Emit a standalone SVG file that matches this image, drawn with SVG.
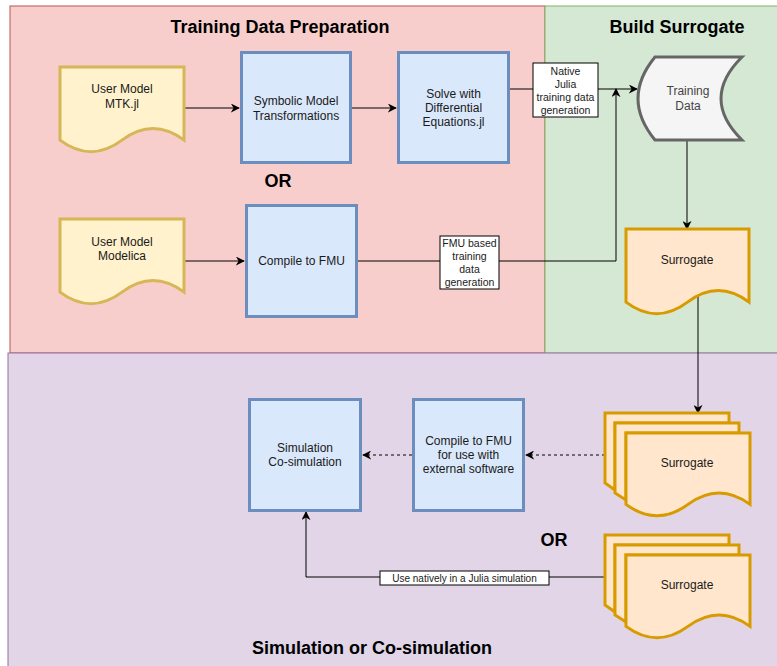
<svg xmlns="http://www.w3.org/2000/svg" width="777" height="666" viewBox="0 0 777 666">
<defs>
<style>
text{font-family:"Liberation Sans",Arial,sans-serif;fill:#1a1a1a;text-anchor:middle;dominant-baseline:central}
.t{font-size:12px}
.h{font-size:18px;font-weight:bold;fill:#000}
.lbl{font-size:10.5px}
.blue{fill:#dae8fc;stroke:#6c8ebf;stroke-width:3}
.yel{fill:#fff2cc;stroke:#d6b656;stroke-width:3}
.org{fill:#ffe6cc;stroke:#d79b00;stroke-width:3}
.gry{fill:#f5f5f5;stroke:#666;stroke-width:3}
.edge{fill:none;stroke:#000;stroke-width:1}
.dash{stroke-dasharray:3 3}
.lb{fill:#fff;stroke:#000;stroke-width:1}
</style>
<marker id="arr" viewBox="0 0 10 10" refX="9" refY="5" markerWidth="9" markerHeight="9" markerUnits="userSpaceOnUse" orient="auto">
<path d="M0,0 L10,5 L0,10 L3,5 Z" fill="#000"/>
</marker>
</defs>

<g id="panels">
<rect x="10" y="6" width="535" height="347" fill="#f8cecc" stroke="#b85450"/>
<rect x="545" y="6" width="233" height="347" fill="#d5e8d4" stroke="#82b366"/>
<rect x="8" y="353" width="770" height="314" fill="#e1d5e7" stroke="#9673a6"/>
<text class="h" x="280" y="27">Training Data Preparation</text>
<text class="h" x="677" y="27">Build Surrogate</text>
<text class="h" x="372" y="648">Simulation or Co-simulation</text>
<text class="h" x="278" y="181">OR</text>
<text class="h" x="554" y="540">OR</text>
</g>

<g id="connectors">
<line class="edge" x1="184" y1="108" x2="239" y2="108" marker-end="url(#arr)"/>
<line class="edge" x1="352" y1="108" x2="396" y2="108" marker-end="url(#arr)"/>
<line class="edge" x1="510" y1="89" x2="637" y2="89" marker-end="url(#arr)"/>
<line class="edge" x1="184" y1="261" x2="244" y2="261" marker-end="url(#arr)"/>
<polyline class="edge" points="358,261 616,261 616,89" marker-end="url(#arr)"/>
<line class="edge" x1="687" y1="140" x2="687" y2="229" marker-end="url(#arr)"/>
<line class="edge" x1="698" y1="293" x2="698" y2="413" marker-end="url(#arr)"/>
<line class="edge dash" x1="605" y1="455" x2="526" y2="455" marker-end="url(#arr)"/>
<line class="edge dash" x1="412" y1="455" x2="363" y2="455" marker-end="url(#arr)"/>
<polyline class="edge" points="605,577 306,577 306,512" marker-end="url(#arr)"/>
<rect class="lb" x="533" y="63" width="65" height="54"/>
<text class="lbl" x="565.5" y="71">Native</text>
<text class="lbl" x="565.5" y="84">Julia</text>
<text class="lbl" x="565.5" y="97">training data</text>
<text class="lbl" x="565.5" y="110">generation</text>
<rect class="lb" x="440" y="236" width="59" height="53"/>
<text class="lbl" x="469.5" y="243">FMU based</text>
<text class="lbl" x="469.5" y="256">training</text>
<text class="lbl" x="469.5" y="269">data</text>
<text class="lbl" x="469.5" y="282">generation</text>
<rect class="lb" x="380" y="571" width="169" height="14"/>
<text class="lbl" x="464.5" y="578" style="font-size:10px">Use natively in a Julia simulation</text>
</g>

<g id="user-model-mtk">
<path class="yel" d="M60,67 H184 V140.1 Q153,116.9 122,140.1 Q91,163.3 60,140.1 Z"/>
<text class="t" x="122" y="89">User Model</text>
<text class="t" x="122" y="104">MTK.jl</text>
</g>
<g id="symbolic">
<rect class="blue" x="241.5" y="52.5" width="109" height="110"/>
<text class="t" x="296" y="101">Symbolic Model</text>
<text class="t" x="296" y="116">Transformations</text>
</g>
<g id="solve">
<rect class="blue" x="398.5" y="52.5" width="110" height="110"/>
<text class="t" x="453.5" y="94">Solve with</text>
<text class="t" x="453.5" y="108">Differential</text>
<text class="t" x="453.5" y="122">Equations.jl</text>
</g>
<g id="training-data">
<path class="gry" d="M655,57 L742,57 Q700,98.5 742,140 L655,140 Q621,98.5 655,57 Z"/>
<text class="t" x="688" y="91" style="fill:#444">Training</text>
<text class="t" x="688" y="106" style="fill:#444">Data</text>
</g>
<g id="user-model-modelica">
<path class="yel" d="M60,219 H184 V292.1 Q153,268.9 122,292.1 Q91,315.3 60,292.1 Z"/>
<text class="t" x="122" y="242">User Model</text>
<text class="t" x="122" y="256">Modelica</text>
</g>
<g id="compile-fmu">
<rect class="blue" x="246.5" y="205.5" width="110" height="111"/>
<text class="t" x="301.5" y="261">Compile to FMU</text>
</g>
<g id="surrogate">
<path class="org" d="M626,229 H749 V302.1 Q718.25,278.9 687.5,302.1 Q656.75,325.3 626,302.1 Z"/>
<text class="t" x="687" y="260">Surrogate</text>
</g>
<g id="surrogates-fmu">
<path class="org" d="M605,483 V413 H729 V423 H615 V490 Z"/>
<path class="org" d="M615,493 V423 H739 V433 H626 V500 Z"/>
<path class="org" d="M626,433 H750 V504.4 Q719,481.7 688,504.4 Q657,527.1 626,504.4 Z"/>
<text class="t" x="687" y="463">Surrogate</text>
</g>
<g id="surrogates-julia">
<path class="org" d="M605,605 V535 H729 V545 H615 V612 Z"/>
<path class="org" d="M615,615 V545 H739 V555 H626 V622 Z"/>
<path class="org" d="M626,555 H750 V626.4 Q719,603.7 688,626.4 Q657,649.1 626,626.4 Z"/>
<text class="t" x="687" y="585">Surrogate</text>
</g>
<g id="compile-external">
<rect class="blue" x="413.5" y="399.5" width="110" height="111"/>
<text class="t" x="468.5" y="441">Compile to FMU</text>
<text class="t" x="468.5" y="455">for use with</text>
<text class="t" x="468.5" y="469">external software</text>
</g>
<g id="simulation">
<rect class="blue" x="249.5" y="399.5" width="111" height="111"/>
<text class="t" x="305" y="448">Simulation</text>
<text class="t" x="305" y="462">Co-simulation</text>
</g>
</svg>
